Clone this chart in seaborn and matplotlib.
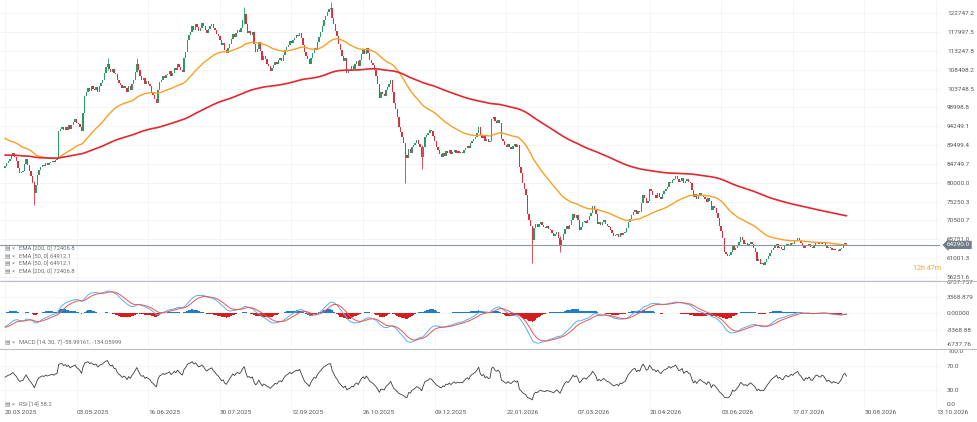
import numpy as np
import pandas as pd
import seaborn as sns
import matplotlib.pyplot as plt
from matplotlib.lines import Line2D
from matplotlib.transforms import blended_transform_factory

# daily closes, first candle = 20.03.2025
start_date = "20.03.2025"
first_open = 83600
closes = [
    84100, 84900, 85600, 86000, 86800, 87500, 86400, 85500, 83800, 82500,
    82800, 83000, 84600, 86000, 84500, 83000, 81700, 80000, 77500, 79400,
    82000, 83300, 83900, 84500, 84100, 85000, 84500, 84900, 85200, 85500,
    85100, 85700, 86000, 93000, 93600, 94000, 93200, 94100, 93400, 94500,
    93500, 94600, 95200, 96000, 95100, 94700, 94000, 93000, 97500, 102000,
    103000, 104000, 103200, 104300, 103700, 103500, 104100, 103000, 104500, 105200,
    106000, 107800, 109200, 110000, 108700, 108000, 108800, 107600, 107500, 106000,
    105200, 104700, 103800, 104500, 104000, 102900, 104300, 103500, 105000, 106000,
    108000, 110000, 108500, 107000, 106000, 106400, 105000, 105600, 104900, 104500,
    103000, 102200, 101000, 100000, 103500, 105500, 106000, 107000, 106500, 107200,
    107500, 108200, 107000, 107800, 108900, 108400, 110000, 109200, 108500, 108000,
    111500, 113000, 116000, 117200, 118000, 119500, 118600, 120000, 119200, 118400,
    119000, 120200, 119500, 118500, 117800, 118900, 119500, 120100, 119000, 118500,
    117500, 117000, 116000, 114800, 115200, 113500, 112800, 114000, 115000, 116200,
    117500, 116800, 117900, 118500, 118000, 119000, 121000, 122500, 120000, 117800,
    118200, 117400, 118000, 115000, 113000, 113800, 115500, 113200, 111000, 112000,
    111200, 110000, 109500, 108200, 109000, 109600, 110500, 110000, 111000, 111500,
    110800, 112200, 113500, 114200, 114800, 115800, 115200, 116000, 116500, 117200,
    117000, 117800, 116400, 114800, 113000, 112000, 111200, 110000, 111600, 112800,
    114000, 113500, 115500, 116800, 118000, 119500, 121000, 122000, 123000, 123800,
    124000, 121500, 120000, 118200, 117000, 115000, 113500, 112000, 110700, 111500,
    107700, 108200, 108500, 109400, 108800, 110000, 110600, 109500, 111000, 112500,
    113500, 112500, 114000, 112800, 111000, 110200, 109600, 108500, 107000, 105000,
    101500, 103000, 102400, 102000, 103500, 104200, 105000, 106000, 103000, 100000,
    98500, 96500, 94000, 92800, 91500, 90000, 87000, 86200, 88600, 87500,
    88900, 89500, 90000, 90800, 89800, 89000, 86500, 89000, 91500, 92000,
    92500, 93300, 93000, 91800, 90600, 89000, 88200, 87300, 86500, 87400,
    86800, 87900, 87500, 88200, 87200, 87800, 88300, 87500, 88000, 87600,
    87800, 87500, 88200, 88800, 89300, 88700, 90000, 90600, 91000, 91500,
    92500, 94000, 92000, 91200, 91800, 90500, 91000, 90200, 90500, 96000,
    96600, 95500, 95000, 95800, 95000, 91000, 90500, 89500, 89000, 89800,
    89000, 88600, 89300, 89800, 89000, 89500, 84000, 82500, 80000, 78500,
    77000, 72000, 70500, 69000, 65500, 68500, 69500, 68800, 69600, 70000,
    69200, 68800, 68500, 69000, 68200, 68000, 67200, 66500, 67000, 67500,
    66000, 64300, 65500, 67000, 68200, 69000, 68400, 69300, 70500, 72000,
    71200, 71800, 70500, 68000, 68800, 70000, 70400, 69800, 70600, 71500,
    72300, 74000, 73200, 72000, 69500, 70200, 69300, 70000, 70500, 69600,
    69000, 68700, 68000, 67200, 66500, 66800, 67000, 66300, 67200, 66800,
    67300, 67500, 68600, 70000, 70800, 71800, 72500, 73000, 72000, 72800,
    72500, 74800, 77000, 76200, 75000, 75500, 78500, 77800, 76800, 77000,
    76200, 77300, 76500, 76000, 77200, 78000, 78500, 79000, 80300, 79800,
    80600, 81000, 81800, 81000, 80200, 80500, 81300, 79800, 80500, 80900,
    80200, 80000, 78200, 76500, 77200, 76000, 76800, 77500, 76900, 76300,
    76000, 75200, 76100, 75500, 73000, 74000, 73600, 72400, 71000, 69000,
    67800, 66000, 62500, 62000, 61500, 61800, 62500, 64000, 63000, 63500,
    64200, 65000, 66300, 65500, 64500, 64800, 64000, 64600, 65100, 64500,
    63600, 62500, 60300, 60800, 59500, 59700, 59300, 60000, 60700, 61500,
    62200, 63000, 63500, 64000, 64500, 63500, 63800, 63200, 63000, 64000,
    64500, 64000, 64300, 64900, 64600, 65200, 65600, 66000, 65200, 64800,
    64100, 63500, 64300, 64000, 64500, 63700, 63500, 64100, 64800, 65000,
    64600, 64500, 65000, 64800, 64200, 63500, 63800, 63400, 63000, 63300,
    63100, 63000, 62800, 63200, 63600, 64500, 64800, 64290,
]

# the long wicks that stand out
wick_days = [18, 63, 81, 147, 200, 246, 256, 324, 341]
wick_high = [80500, 111500, 111500, 124300, 125600, 90000, 89500, 69000, 66500]
wick_low = [74400, 108500, 108000, 120000, 122000, 80000, 83500, 59800, 62500]

# indicator start values read at the left edge
ema50_start = 91500
ema200_start = 87000
macd_fast_start = 84700
macd_slow_start = 87500
macd_signal_start = -2800
rsi_gain_start = 800
rsi_loss_start = 800

date_labels = ["20.03.2025", "03.05.2025", "16.06.2025", "30.07.2025", "12.09.2025",
               "26.10.2025", "09.12.2025", "22.01.2026", "07.03.2026", "20.04.2026",
               "03.06.2026", "17.07.2026", "30.08.2026", "13.10.2026"]
price_labels = ["122747.2", "117997.5", "113247.8", "108498.2", "103748.5", "98998.8",
                "94249.1", "89499.4", "84749.7", "80000.0", "75250.3", "70500.7",
                "65751.0", "61001.3", "56251.6"]
macd_labels = ["6737.757", "3368.879", "0.00000", "-3368.88", "-6737.76"]
rsi_labels = ["100.0", "70.0", "30.0", "0.0"]
legend_rows = ["EMA [200, 0] 72406.8", "EMA [50, 0] 64912.1",
               "EMA [50, 0] 64912.1", "EMA [200, 0] 72406.8"]
macd_title = "MACD [14, 30, 7] -58.99161, -134.05999"
rsi_title = "RSI [14] 58.2"
last_price = 64290.0
timer_text = "12h 47m"

GREEN = "#2b9a66"
RED = "#d3323f"
GRID = "#f1f2f4"
TXT = "#6d6d6d"


def ema(values, span, seed):
    a = 2 / (span + 1)
    out, prev = [], seed
    for v in values:
        prev = a * v + (1 - a) * prev
        out.append(prev)
    return np.array(out)


def rsi(values, n, gain, loss, prev):
    out = []
    for v in values:
        ch = v - prev
        prev = v
        gain = (gain * (n - 1) + max(ch, 0)) / n
        loss = (loss * (n - 1) + max(-ch, 0)) / n
        out.append(100 - 100 / (1 + gain / loss))
    return np.array(out)


df = pd.DataFrame({"day": np.arange(len(closes)), "close": closes})
df["open"] = [first_open] + closes[:-1]
df["ema50"] = ema(df["close"], 50, ema50_start)
df["ema200"] = ema(df["close"], 200, ema200_start)
df["macd"] = ema(df["close"], 14, macd_fast_start) - ema(df["close"], 30, macd_slow_start)
df["signal"] = ema(df["macd"], 7, macd_signal_start)
df["histo"] = df["macd"] - df["signal"]
df["rsi"] = rsi(df["close"], 14, rsi_gain_start, rsi_loss_start, first_open)

t0 = pd.to_datetime(start_date, dayfirst=True)
tick_days = [(pd.to_datetime(s, dayfirst=True) - t0).days for s in date_labels]

sns.set_theme(style="white")
plt.rcParams["font.family"] = ["Roboto", "DejaVu Sans"]

W, H = 978, 422
fig = plt.figure(figsize=(W / 100, H / 100), dpi=100)


def px_axes(x0, y0, x1, y1):
    return fig.add_axes([x0 / W, 1 - y1 / H, (x1 - x0) / W, (y1 - y0) / H])


ax = px_axes(0, 0, 940, 280)
axm = px_axes(0, 280, 940, 347)
axr = px_axes(0, 349, 940, 407)

ppd = (936 - 5) / tick_days[-1]
xlim = (-5 / ppd, (940 - 5) / ppd)

for a in (ax, axm, axr):
    a.set_xlim(*xlim)
    a.set_xticks(tick_days)
    a.grid(True, axis="both", color=GRID, lw=0.6)
    for s in a.spines.values():
        s.set_visible(False)
    a.yaxis.tick_right()
    a.tick_params(axis="y", length=0, pad=5, labelsize=4.6, labelcolor="#555555")
    a.tick_params(axis="x", length=0)
    a.set_facecolor("white")

# price panel
ax.set_ylim(55442, 126113)
ax.set_yticks([float(v) for v in price_labels])
ax.set_yticklabels(price_labels)
ax.set_xticklabels([])

cols = np.where(df["close"] >= df["open"], GREEN, RED)
ax.bar(df["day"], df["close"] - df["open"], bottom=df["open"], width=0.85, color=cols, linewidth=0, zorder=3)
ax.vlines(wick_days, wick_low, wick_high, colors=[cols[d] for d in wick_days], lw=0.6, zorder=3)

sns.lineplot(data=df, x="day", y="ema50", ax=ax, color="#f9a024", lw=1.0, zorder=4)
sns.lineplot(data=df, x="day", y="ema200", ax=ax, color="#e3262f", lw=1.2, zorder=4)
ax.set_xlabel("")
ax.set_ylabel("")

ax.axhline(last_price, color="#8b959f", lw=0.8, zorder=5)
ax.text(1 + 7 / 940, last_price, f"{last_price:.1f}", transform=blended_transform_factory(ax.transAxes, ax.transData),
        ha="left", va="center", fontsize=4.6, color="white", zorder=6,
        bbox=dict(boxstyle="larrow,pad=0.25", fc="#717c87", ec="none"))
ax.text(913 / 940, 58470, timer_text, transform=blended_transform_factory(ax.transAxes, ax.transData),
        ha="left", va="center", fontsize=5.2, color="#f5a52a")

# MACD panel
axm.set_ylim(-6737.76, 6737.757)
axm.set_yticks([float(v) for v in macd_labels])
axm.set_yticklabels(macd_labels)
axm.set_xticklabels([])
hcols = np.where(df["histo"] >= 0, "#1f7cc6", "#d61c1c")
axm.bar(df["day"], df["histo"], width=1.0, color=hcols, linewidth=0, zorder=3)
sns.lineplot(data=df, x="day", y="macd", ax=axm, color="#5aaef0", lw=0.7, zorder=4)
sns.lineplot(data=df, x="day", y="signal", ax=axm, color="#ec5353", lw=0.7, zorder=4)
axm.set_xlabel("")
axm.set_ylabel("")
mt = axm.get_yticklabels()
mt[0].set_va("top")
mt[-1].set_va("bottom")

# RSI panel
axr.set_ylim(0, 100)
axr.set_yticks([float(v) for v in rsi_labels])
axr.set_yticklabels(rsi_labels)
axr.set_xticklabels(date_labels, ha="left", fontsize=4.6, color="#555555")
axr.tick_params(axis="x", pad=2)
sns.lineplot(data=df, x="day", y="rsi", ax=axr, color="#3c3c3c", lw=0.6, zorder=4)
axr.set_xlabel("")
axr.set_ylabel("")
rt = axr.get_yticklabels()
rt[0].set_va("top")
rt[-1].set_va("bottom")

# panel separators
for yy in (280.5, 348.5):
    fig.add_artist(Line2D([0, 1], [1 - yy / H] * 2, color="#b9bfc5", lw=0.8))

# indicator captions
for i, row in enumerate(legend_rows):
    yy = 249 + i * 7.4
    fig.text(5 / W, 1 - yy / H, "▤ ×", fontsize=4.2, color="#8a8a8a", va="center")
    fig.text(19 / W, 1 - yy / H, row, fontsize=4.2, color=TXT, va="center")
for yy, row in ((343, macd_title), (405, rsi_title)):
    fig.text(5 / W, 1 - yy / H, "▤ ×", fontsize=4.2, color="#8a8a8a", va="center")
    fig.text(19 / W, 1 - yy / H, row, fontsize=4.2, color=TXT, va="center")

fig.savefig("out.png", dpi=100, facecolor="white")
